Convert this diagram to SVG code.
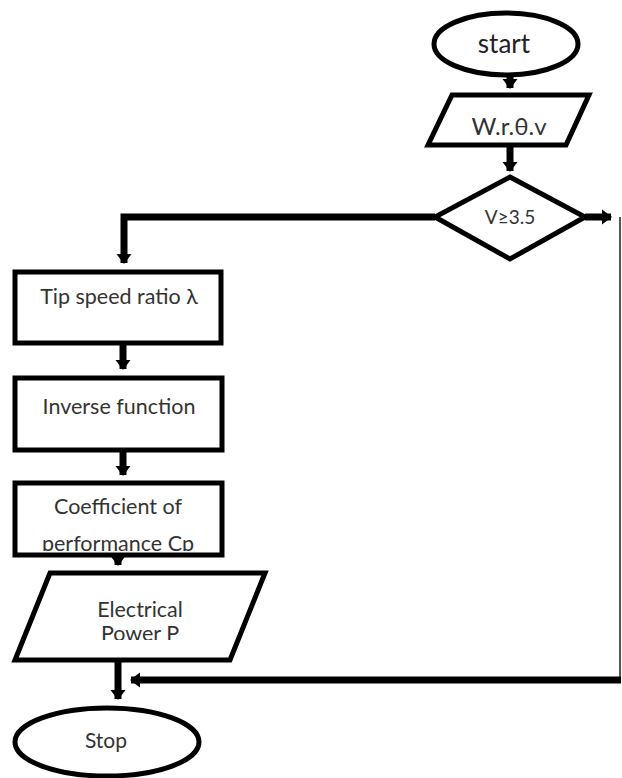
<svg xmlns="http://www.w3.org/2000/svg" width="622" height="778" viewBox="0 0 622 778">
<style>
.sh{fill:#fff;stroke:#000;stroke-width:5;stroke-linejoin:miter}
.t{font-family:Lato,"Open Sans",sans-serif;font-size:21.5px;fill:#333;text-anchor:middle}
.c{fill:none;stroke:#000;stroke-width:7}
</style>
<defs>
<marker id="ah" markerUnits="userSpaceOnUse" markerWidth="18" markerHeight="18" refX="9" refY="9" orient="auto" viewBox="0 0 18 18">
<path d="M0,1.5 L10,9 L0,16.5 Z" fill="#000"/>
</marker>
<clipPath id="cpClip"><rect x="17" y="485" width="203" height="66"/></clipPath>
<clipPath id="epClip"><rect x="0" y="575" width="280" height="65"/></clipPath>
</defs>
<rect width="622" height="778" fill="#fff"/>
<g id="connectors">
<path class="c" d="M510,76 V88" marker-end="url(#ah)"/>
<path class="c" d="M510,145 V171" marker-end="url(#ah)"/>
<path class="c" d="M435,217 H124 V263" marker-end="url(#ah)"/>
<path class="c" d="M585,217 H611" marker-end="url(#ah)"/>
<path d="M620,217 V680" stroke="#555" stroke-width="2" fill="none"/>
<path class="c" d="M621,680 H131" marker-end="url(#ah)"/>
<path class="c" d="M123,343 V369" marker-end="url(#ah)"/>
<path class="c" d="M123,450 V475" marker-end="url(#ah)"/>
<path class="c" d="M118,555 V565" marker-end="url(#ah)"/>
<path class="c" d="M118,660 V699" marker-end="url(#ah)"/>
</g>
<g id="start">
<ellipse class="sh" cx="506" cy="44" rx="72" ry="31"/>
<text class="t" x="504" y="53" style="font-size:26px;fill:#222">start</text>
</g>
<g id="input">
<polygon class="sh" points="452,95 589,95 566,145 428,145"/>
<text class="t" x="509" y="135" style="font-size:24px">W.r.θ.v</text>
</g>
<g id="decision">
<polygon class="sh" points="510,177 585,217 510,259 435,217"/>
<text class="t" x="510" y="224" style="font-size:19px">V≥3.5</text>
</g>
<g id="tsr">
<rect class="sh" x="15" y="272" width="206" height="71"/>
<text class="t" x="119" y="304">Tip speed ratio λ</text>
</g>
<g id="inverse">
<rect class="sh" x="15" y="378" width="207" height="72"/>
<text class="t" x="119" y="414">Inverse function</text>
</g>
<g id="coef">
<rect class="sh" x="15" y="483" width="207" height="72"/>
<g clip-path="url(#cpClip)">
<text class="t" x="118" y="514">Coefficient of</text>
<text class="t" x="118" y="551">performance Cp</text>
</g>
</g>
<g id="power">
<polygon class="sh" points="50,573 265,573 230,660 15,660"/>
<g clip-path="url(#epClip)">
<text class="t" x="140" y="617">Electrical</text>
<text class="t" x="140" y="641">Power P</text>
</g>
</g>
<g id="stop">
<ellipse class="sh" cx="107" cy="742" rx="92" ry="34"/>
<text class="t" x="106" y="748" style="font-size:21px">Stop</text>
</g>
</svg>
